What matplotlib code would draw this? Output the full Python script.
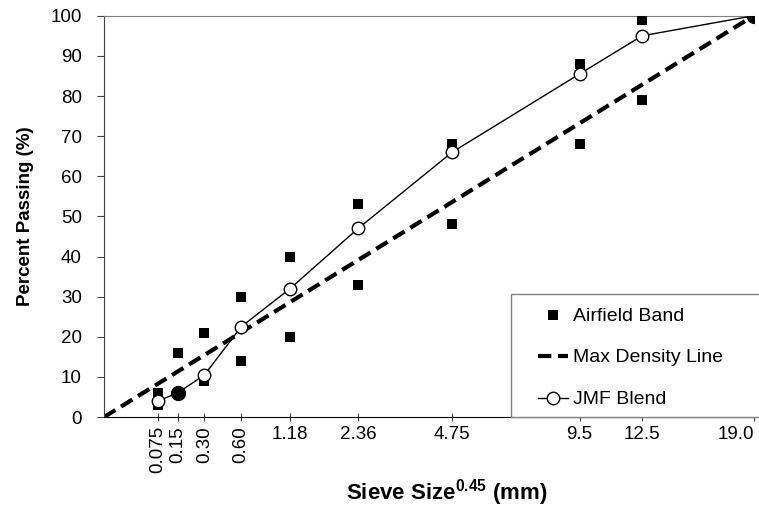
import numpy as np
import matplotlib.pyplot as plt
from matplotlib.patches import Rectangle

plt.rcParams['font.family'] = ['Liberation Sans', 'DejaVu Sans']
plt.rcParams['mathtext.fontset'] = 'custom'
plt.rcParams['mathtext.rm'] = 'Liberation Sans'
plt.rcParams['mathtext.bf'] = 'Liberation Sans:bold'

# Données
tamis = [0.075, 0.15, 0.30, 0.60, 1.18, 2.36, 4.75, 9.5, 12.5, 19.0]
tamis_labels = ['0.075', '0.15', '0.30', '0.60', '1.18', '2.36', '4.75', '9.5', '12.5', '19.0']
bande_haute = [6, 16, 21, 30, 40, 53, 68, 88, 99, 100]
bande_basse = [3, 6, 9, 14, 20, 33, 48, 68, 79, 100]
jmf = [4, 6, 10.5, 22.5, 32, 47, 66, 85.5, 95, 100]
jmf_plein = [0.15, 19.0]   # points dessinés pleins
densite_tamis = [0, 19.0]
densite_pct = [0, 100]

p = 0.45
x = np.array(tamis) ** p

fig = plt.figure(figsize=(7.59, 5.08), dpi=100)
ax = fig.add_axes([0.137, 0.179, 0.856, 0.79])

ax.plot(np.array(densite_tamis) ** p, densite_pct, color='black', lw=3,
        dashes=(3.2, 1.6), label='Max Density Line', zorder=2)
ax.scatter(np.concatenate([x, x]), bande_haute + bande_basse, marker='s', s=55,
           color='black', label='Airfield Band', zorder=3, linewidths=0)
ax.plot(x, jmf, color='black', lw=1, marker='o', markersize=9,
        markerfacecolor='white', markeredgecolor='black', markeredgewidth=1,
        label='JMF Blend', zorder=4)
idx = [tamis.index(t) for t in jmf_plein]
ax.plot(x[idx], [jmf[i] for i in idx], ls='none', marker='o', markersize=10,
        color='black', zorder=5)

ax.set_xlim(0, 19.0 ** p)
ax.set_ylim(0, 100)
ax.set_yticks(range(0, 101, 10))
ax.set_xticks(x)
ax.set_xticklabels(tamis_labels)
labs = ax.get_xticklabels()
for i, lab in enumerate(labs):
    if i < 4:
        lab.set_rotation(90)
labs[-1].set_horizontalalignment('right')
ax.tick_params(labelsize=13.5, length=5, color='#404040')
ax.tick_params(axis='x', direction='inout', length=6)
ax.tick_params(axis='y', direction='out', pad=11)

ax.spines['right'].set_visible(False)
ax.spines['top'].set_color('#808080')
ax.spines['left'].set_color('#404040')
ax.spines['bottom'].set_color('black')

ax.set_ylabel('Percent Passing (%)', fontsize=13.5, fontweight='bold', labelpad=12)
ax.set_xlabel(r'Sieve Size$^{\mathbf{0.45}}$ (mm)', fontsize=16, fontweight='bold')
ax.xaxis.set_label_coords(0.528, -0.15)

# Légende
h, l = ax.get_legend_handles_labels()
order = [l.index('Airfield Band'), l.index('Max Density Line'), l.index('JMF Blend')]
leg = ax.legend([h[i] for i in order], [l[i] for i in order], loc='center left',
                bbox_to_anchor=(0.668, 0.148), fontsize=14, frameon=False,
                handlelength=1.55, handletextpad=0.25, labelspacing=1.25,
                borderpad=0.0, borderaxespad=0.0)
ax.add_patch(Rectangle((0.626, 0.0), 0.45, 0.307, transform=ax.transAxes,
                       facecolor='white', edgecolor='#808080', lw=1,
                       clip_on=False, zorder=6))
leg.set_zorder(7)

fig.savefig('out.png', dpi=100)
